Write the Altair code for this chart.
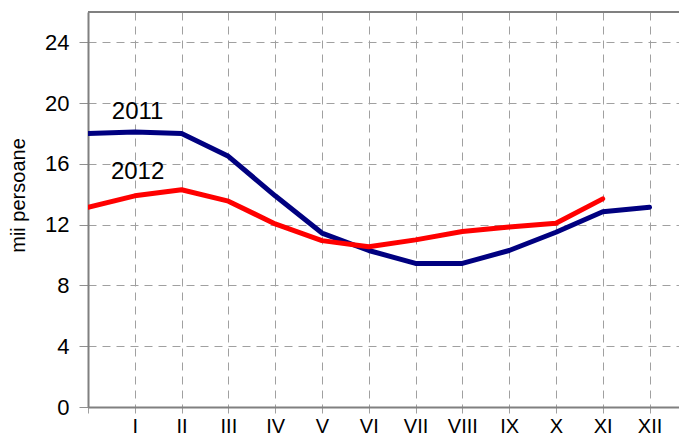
import altair as alt
import pandas as pd

positions = list(range(13))
month_labels = ["", "I", "II", "III", "IV", "V", "VI", "VII", "VIII", "IX", "X", "XI", "XII"]
s2011 = [18.0, 18.1, 18.0, 16.5, 13.9, 11.45, 10.3, 9.45, 9.45, 10.3, 11.5, 12.85, 13.15]
s2012 = [13.15, 13.9, 14.3, 13.55, 12.05, 10.95, 10.55, 11.0, 11.55, 11.85, 12.1, 13.7]
y_ticks = [0, 4, 8, 12, 16, 20, 24]
year_names = ["2011", "2012"]
year_label_pos = [1.06, 1.06]
year_label_val = [19.4, 15.5]

rows = []
for p, v in zip(positions, s2011):
    rows.append({"pos": p, "val": v, "year": "2011"})
for p, v in zip(positions, s2012):
    rows.append({"pos": p, "val": v, "year": "2012"})
df = pd.DataFrame(rows)
lab = pd.DataFrame({"pos": year_label_pos, "val": year_label_val, "txt": year_names})

label_js = "[" + ",".join("'" + m + "'" for m in month_labels) + "]"
FONT = "Liberation Sans"
W, H = 591, 395

xscale = alt.Scale(domain=[0, 12.63], nice=False, zero=False)
yscale = alt.Scale(domain=[0, 26], nice=False)

xaxis = alt.Axis(values=positions, labelExpr=label_js + "[datum.value]", title=None,
                 grid=True, gridDash=[8, 6], gridColor="#a0a0a0", gridWidth=1,
                 tickSize=6, tickColor="#a0a0a0", tickWidth=1,
                 domainColor="#808080", domainWidth=2,
                 labelFont=FONT, labelFontSize=20, labelColor="#000000",
                 labelPadding=3, labelAngle=0, labelAlign="center", labelBaseline="top")
yaxis = alt.Axis(values=y_ticks, title="mii persoane", grid=True, gridDash=[8, 6],
                 gridColor="#a0a0a0", gridWidth=1,
                 tickSize=9, tickColor="#909090", tickWidth=1,
                 domainColor="#808080", domainWidth=2,
                 labelFont=FONT, labelFontSize=22, labelColor="#000000", labelPadding=10,
                 titleFont=FONT, titleFontSize=20, titleFontWeight="normal", titleColor="#000000",
                 titleAngle=-90, titleX=-70, titleY=183, titleAlign="center", titleBaseline="middle")

lines = alt.Chart(df).mark_line(strokeWidth=5, strokeCap="round", strokeJoin="round", clip=True).encode(
    x=alt.X("pos:Q", scale=xscale, axis=xaxis),
    y=alt.Y("val:Q", scale=yscale, axis=yaxis),
    color=alt.Color("year:N", scale=alt.Scale(domain=["2011", "2012"], range=["#000080", "#ff0000"]), legend=None),
)

texts = alt.Chart(lab).mark_text(font=FONT, fontSize=24, color="#000000", align="center", baseline="middle").encode(
    x=alt.X("pos:Q", scale=xscale),
    y=alt.Y("val:Q", scale=yscale),
    text="txt:N",
)

top_border = alt.Chart(lab).mark_rule(color="#808080", strokeWidth=2).encode(
    x=alt.value(0), x2=alt.value(W), y=alt.value(0)
)

chart = alt.layer(lines, texts, top_border).properties(
    width=W, height=H,
    autosize=alt.AutoSizeParams(type="none"),
    padding={"left": 80, "top": 4, "right": 0, "bottom": 30},
).configure_view(strokeWidth=0).configure(background="#ffffff")

chart.save("out.html", embed_options={"renderer": "svg", "actions": False})
